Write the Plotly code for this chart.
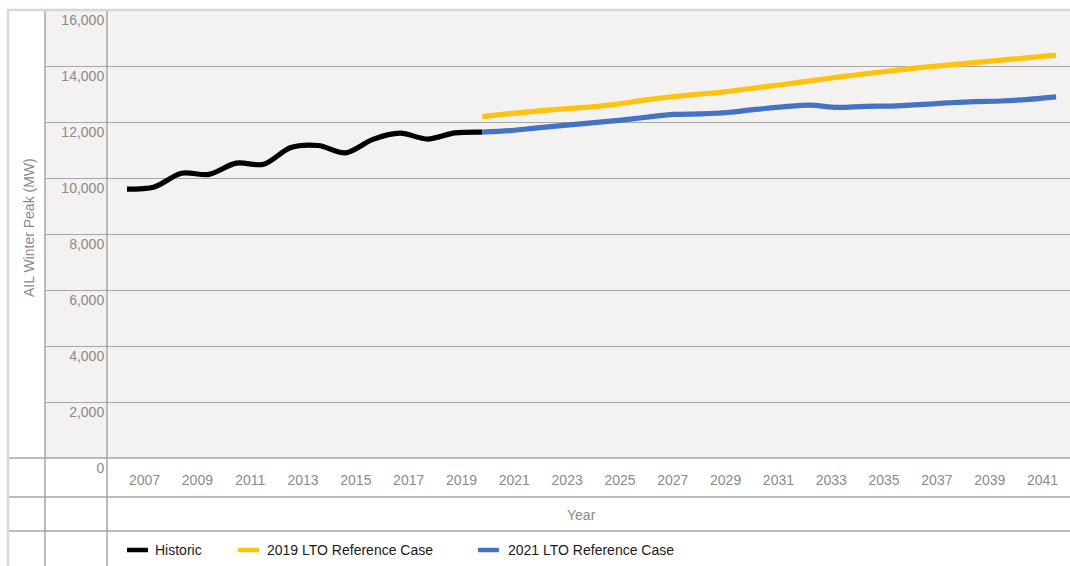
import plotly.graph_objects as go

# values (MW)
hist_years = list(range(2007, 2021))
historic = [9600, 9680, 10170, 10130, 10530, 10490, 11090, 11160, 10900, 11380, 11600, 11390, 11610, 11640]

fc_years = list(range(2020, 2042))
lto_2019 = [12190, 12300, 12390, 12470, 12540, 12650, 12790, 12910, 13000, 13090, 13220, 13340,
            13470, 13600, 13720, 13830, 13940, 14030, 14120, 14210, 14300, 14390]
lto_2021 = [11640, 11690, 11790, 11880, 11970, 12060, 12170, 12270, 12290, 12340, 12450, 12540,
            12600, 12520, 12560, 12570, 12620, 12680, 12730, 12750, 12810, 12900]

tick_years = list(range(2007, 2042, 2))
y_ticks = list(range(0, 16001, 2000))

series = [
    ("Historic", hist_years, historic, "#000000"),
    ("2019 LTO Reference Case", fc_years, lto_2019, "#ffc20e"),
    ("2021 LTO Reference Case", fc_years, lto_2021, "#4472c4"),
]

W, H = 1070, 566
L, T, B = 45, 10, 108
plot_w = W - L
plot_h = H - T - B
FONT = "Liberation Sans, Arial, sans-serif"
GRID = "#a6a6a6"
TICK_GREY = "#8a8a8a"


# helpers: pixel position in the figure -> paper coords
def px(x):
    return (x - L) / plot_w


def py(y):
    return (H - B - y) / plot_h


fig = go.Figure()
for name, xs, ys, color in series:
    fig.add_trace(go.Scatter(
        x=xs, y=ys, name=name, mode="lines",
        line=dict(color=color, width=5.2, shape="spline", smoothing=0.9),
        showlegend=False,
    ))
# empty trace so the year label axis gets drawn
fig.add_trace(go.Scatter(x=[tick_years[0], tick_years[-1]], y=[0, 0], xaxis="x2",
                         mode="none", showlegend=False, hoverinfo="skip"))

fig.update_layout(
    width=W, height=H,
    margin=dict(l=L, r=0, t=T, b=B),
    paper_bgcolor="white",
    plot_bgcolor="#f3f2f0",
    font=dict(family=FONT, size=14, color=TICK_GREY),
    hovermode=False,
    xaxis=dict(range=[2004.0, 2041.51], visible=False, anchor="y"),
    xaxis2=dict(
        overlaying="x", anchor="y", side="bottom",
        range=[2003.23, 2042.04],
        tickmode="array", tickvals=tick_years, ticktext=[str(y) for y in tick_years],
        ticks="outside", ticklen=9, tickcolor="rgba(0,0,0,0)",
        showgrid=False, zeroline=False, showline=False,
        tickfont=dict(size=14, color=TICK_GREY),
    ),
    yaxis=dict(
        range=[0, 16000], anchor="free", position=px(107), side="left",
        tickmode="array", tickvals=y_ticks, tickformat=",",
        ticklabelposition="outside bottom",
        ticks="outside", ticklen=4, tickcolor="rgba(0,0,0,0)",
        showgrid=True, gridcolor=GRID, gridwidth=1,
        zeroline=False, showline=False,
        tickfont=dict(size=14, color=TICK_GREY),
    ),
)

# table-style frame lines around the chart
line_grey = dict(color=GRID, width=1.5)
bottom = py(H)
for x in (45, 107):
    fig.add_shape(type="line", xref="paper", yref="paper",
                  x0=px(x), x1=px(x), y0=bottom, y1=1, line=line_grey)
for y in (458, 497, 531):
    fig.add_shape(type="line", xref="paper", yref="paper",
                  x0=px(9), x1=1, y0=py(y), y1=py(y), line=line_grey)
border = dict(color="#ddd6ce", width=2.5)
fig.add_shape(type="line", xref="paper", yref="paper",
              x0=px(7), x1=1, y0=py(10), y1=py(10), line=border)
fig.add_shape(type="line", xref="paper", yref="paper",
              x0=px(8), x1=px(8), y0=bottom, y1=py(10), line=border)

fig.add_annotation(text="AIL Winter Peak (MW)", xref="paper", yref="paper",
                   x=px(29), y=py(228), xanchor="center", yanchor="middle",
                   textangle=-90, showarrow=False,
                   font=dict(size=14, color=TICK_GREY))
fig.add_annotation(text="Year", xref="paper", yref="paper",
                   x=px(581), y=py(515), xanchor="center", yanchor="middle",
                   showarrow=False, font=dict(size=14, color=TICK_GREY))

# legend row
legend_pos = [(127, 153), (238, 265), (478, 506)]
for (sx, tx), (name, _, _, color) in zip(legend_pos, series):
    fig.add_shape(type="line", xref="paper", yref="paper",
                  x0=px(sx), x1=px(sx + 21), y0=py(550), y1=py(550),
                  line=dict(color=color, width=4.5))
    fig.add_annotation(text=name, xref="paper", yref="paper",
                       x=px(tx), y=py(550), xanchor="left", yanchor="middle",
                       showarrow=False, font=dict(size=14, color="#1a1a1a"))

# drop the browser's default 8px body margin so the figure fills the window
fig.write_html(
    "out.html",
    config={"displayModeBar": False},
    post_script="document.body.style.margin='0';document.body.style.overflow='hidden';",
)
